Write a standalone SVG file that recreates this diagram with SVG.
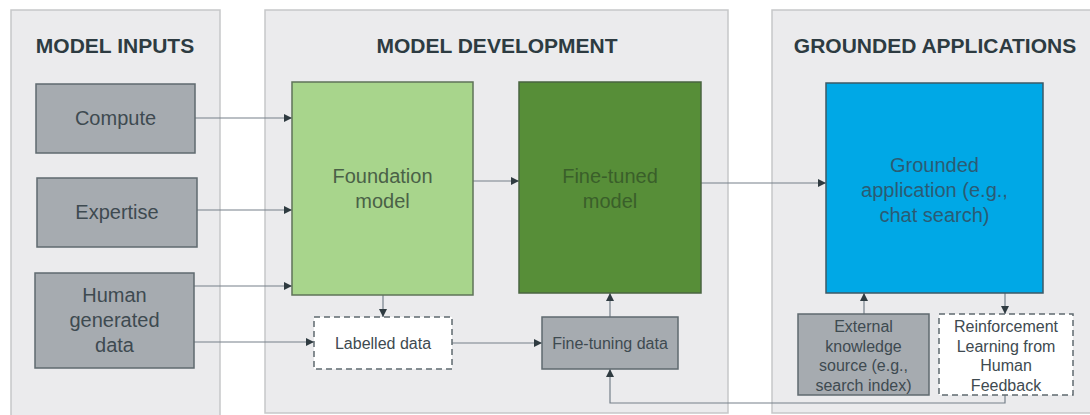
<svg xmlns="http://www.w3.org/2000/svg" width="1090" height="415" viewBox="0 0 1090 415">
<defs>
<marker id="arr" viewBox="0 0 10 10" refX="10" refY="5" markerWidth="8" markerHeight="8" markerUnits="userSpaceOnUse" orient="auto">
<path d="M0,0 L10,5 L0,10 z" fill="#2f3b41"/>
</marker>
<style>
.panel{fill:#ebebed;stroke:#c6c7c9;stroke-width:1.5}
.title{font-family:"Liberation Sans",Arial,sans-serif;font-weight:bold;font-size:21px;fill:#2d3b41;text-anchor:middle}
.gray{fill:#a6abb0;stroke:#5f6a6f;stroke-width:1.5}
.dash{fill:#ffffff;stroke:#5f6a6f;stroke-width:1.5;stroke-dasharray:6 4}
.t20{font-family:"Liberation Sans",Arial,sans-serif;font-size:20px;text-anchor:middle}
.t16{font-family:"Liberation Sans",Arial,sans-serif;font-size:16px;text-anchor:middle}
.gt{fill:#3e4a50}
.conn{fill:none;stroke:#76808a;stroke-width:1.2;marker-end:url(#arr)}
</style>
</defs>
<rect width="1090" height="415" fill="#ffffff"/>
<g id="panel-inputs">
<rect class="panel" x="11" y="10" width="209" height="410"/>
<text class="title" x="115" y="53">MODEL INPUTS</text>
</g>
<g id="panel-development">
<rect class="panel" x="265" y="10" width="463" height="403"/>
<text class="title" x="497" y="53">MODEL DEVELOPMENT</text>
</g>
<g id="panel-applications">
<rect class="panel" x="772" y="10" width="330" height="403"/>
<text class="title" x="935" y="53">GROUNDED APPLICATIONS</text>
</g>
<g id="connectors">
<path class="conn" d="M195,118 H292"/>
<path class="conn" d="M197,210 H292"/>
<path class="conn" d="M194,286 H292"/>
<path class="conn" d="M194,342 H314"/>
<path class="conn" d="M383,295 V317"/>
<path class="conn" d="M473,181 H519"/>
<path class="conn" d="M452,343 H542"/>
<path class="conn" d="M610,317 V293"/>
<path class="conn" d="M701,183 H826"/>
<path class="conn" d="M864,314 V293"/>
<path class="conn" d="M1005,293 V314"/>
<path class="conn" d="M1005,395 V403 H610 V369"/>
</g>
<g id="compute">
<rect class="gray" x="36" y="84" width="159" height="69"/>
<text class="t20 gt" x="115.5" y="125">Compute</text>
</g>
<g id="expertise">
<rect class="gray" x="37" y="178" width="160" height="69"/>
<text class="t20 gt" x="117" y="219">Expertise</text>
</g>
<g id="human-data">
<rect class="gray" x="35" y="273" width="159" height="95"/>
<text class="t20 gt" x="114.5" y="302">Human</text>
<text class="t20 gt" x="114.5" y="327">generated</text>
<text class="t20 gt" x="114.5" y="352">data</text>
</g>
<g id="foundation">
<rect x="292" y="82" width="181" height="213" fill="#a8d58c" stroke="#5f7358" stroke-width="1.5"/>
<text class="t20" x="382.5" y="183" fill="#4a6147">Foundation</text>
<text class="t20" x="382.5" y="208" fill="#4a6147">model</text>
</g>
<g id="finetuned">
<rect x="519" y="82" width="182" height="211" fill="#578e38" stroke="#4a6440" stroke-width="1.5"/>
<text class="t20" x="610" y="183" fill="#3a5f2a">Fine-tuned</text>
<text class="t20" x="610" y="208" fill="#3a5f2a">model</text>
</g>
<g id="labelled">
<rect class="dash" x="314" y="317" width="138" height="52"/>
<text class="t16 gt" x="383" y="349">Labelled data</text>
</g>
<g id="finetuning-data">
<rect class="gray" x="542" y="317" width="136" height="52"/>
<text class="t16 gt" x="610" y="349">Fine-tuning data</text>
</g>
<g id="grounded">
<rect x="826" y="83" width="217" height="210" fill="#00a8e6" stroke="#3d5966" stroke-width="1.5"/>
<text class="t20" x="934.5" y="172" fill="#2b5b74">Grounded</text>
<text class="t20" x="934.5" y="197" fill="#2b5b74">application (e.g.,</text>
<text class="t20" x="934.5" y="222" fill="#2b5b74">chat search)</text>
</g>
<g id="external">
<rect class="gray" x="798" y="314" width="131" height="81" fill="#979ca1"/>
<text class="t16 gt" x="863.5" y="332">External</text>
<text class="t16 gt" x="863.5" y="351.5">knowledge</text>
<text class="t16 gt" x="863.5" y="371">source (e.g.,</text>
<text class="t16 gt" x="863.5" y="390.5">search index)</text>
</g>
<g id="rlhf">
<rect class="dash" x="939" y="314" width="134" height="81"/>
<text class="t16 gt" x="1006" y="332">Reinforcement</text>
<text class="t16 gt" x="1006" y="351.5">Learning from</text>
<text class="t16 gt" x="1006" y="371">Human</text>
<text class="t16 gt" x="1006" y="390.5">Feedback</text>
</g>
</svg>
